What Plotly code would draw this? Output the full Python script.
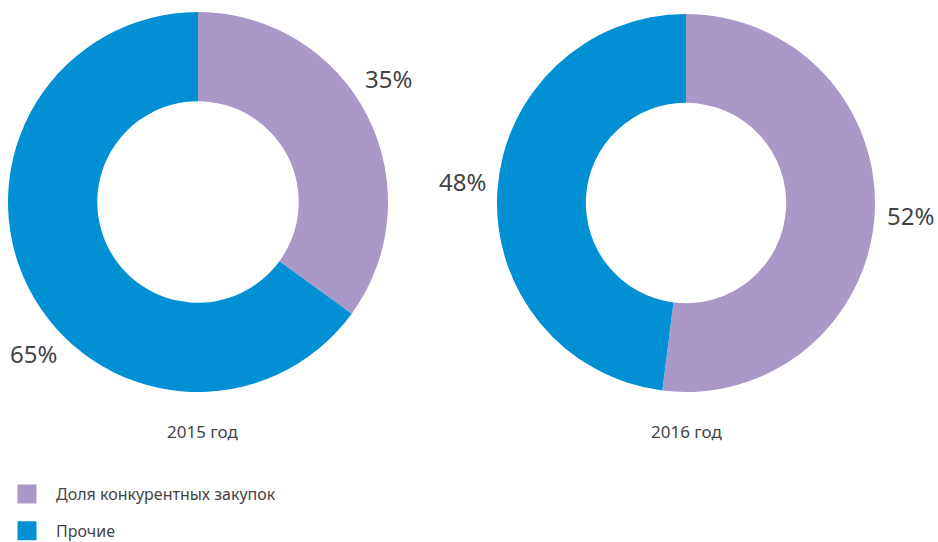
import plotly.graph_objects as go

categories = ["Доля конкурентных закупок", "Прочие"]
years = ["2015 год", "2016 год"]
values_2015 = [35, 65]
values_2016 = [52, 48]
colors = ["#AA98C8", "#0290D4"]

W, H = 938, 542
FONT = "Noto Sans"
TXT = "#444444"

def px_dom(x0, x1, y0, y1):
    return dict(x=[x0 / W, x1 / W], y=[1 - y1 / H, 1 - y0 / H])

fig = go.Figure()
fig.add_trace(go.Pie(
    labels=categories, values=values_2015, hole=0.53, sort=False,
    direction="clockwise", rotation=0, marker=dict(colors=colors),
    textinfo="none", hoverinfo="label+percent", showlegend=False,
    domain=px_dom(8, 388, 12, 392)))
fig.add_trace(go.Pie(
    labels=categories, values=values_2016, hole=0.53, sort=False,
    direction="clockwise", rotation=0, marker=dict(colors=colors),
    textinfo="none", hoverinfo="label+percent", showlegend=False,
    domain=px_dom(497, 875, 14, 392)))

for cat, col in zip(categories, colors):
    fig.add_trace(go.Scatter(
        x=[None], y=[None], mode="markers", name=cat, legendgroup=cat,
        marker=dict(symbol="square", size=16, color=col, line=dict(color=col, width=3))))

# percent labels (value, x px, y px)
label_pos = [
    (values_2015[0], 388, 78), (values_2015[1], 33, 353),
    (values_2016[0], 910, 215), (values_2016[1], 462, 181),
]
annotations = []
for v, x, y in label_pos:
    annotations.append(dict(text=f"{v}%", x=x / W, y=1 - y / H, xref="paper", yref="paper",
                            xanchor="center", yanchor="middle", showarrow=False,
                            font=dict(family=FONT, size=24, color=TXT)))
for t, x in zip(years, [203, 687]):
    annotations.append(dict(text=t, x=x / W, y=1 - 431 / H, xref="paper", yref="paper",
                            xanchor="center", yanchor="middle", showarrow=False,
                            font=dict(family=FONT, size=17, color=TXT)))

fig.update_layout(
    width=W, height=H, margin=dict(l=0, r=0, t=0, b=0, autoexpand=False),
    paper_bgcolor="white", plot_bgcolor="white",
    xaxis=dict(visible=False), yaxis=dict(visible=False),
    annotations=annotations,
    legend=dict(x=-2 / W, y=-6 / H, xanchor="left", yanchor="bottom", itemwidth=48,
                font=dict(family=FONT, size=16, color=TXT), tracegroupgap=13,
                bgcolor="rgba(0,0,0,0)"),
)
post = (
    "document.body.style.margin='0';document.body.style.overflow='hidden';"
    "var d=document.getElementById('{plot_id}');"
    "d.style.position='absolute';d.style.left='0px';d.style.top='0px';"
)
fig.write_html("out.html", config={"displayModeBar": False}, post_script=post)
